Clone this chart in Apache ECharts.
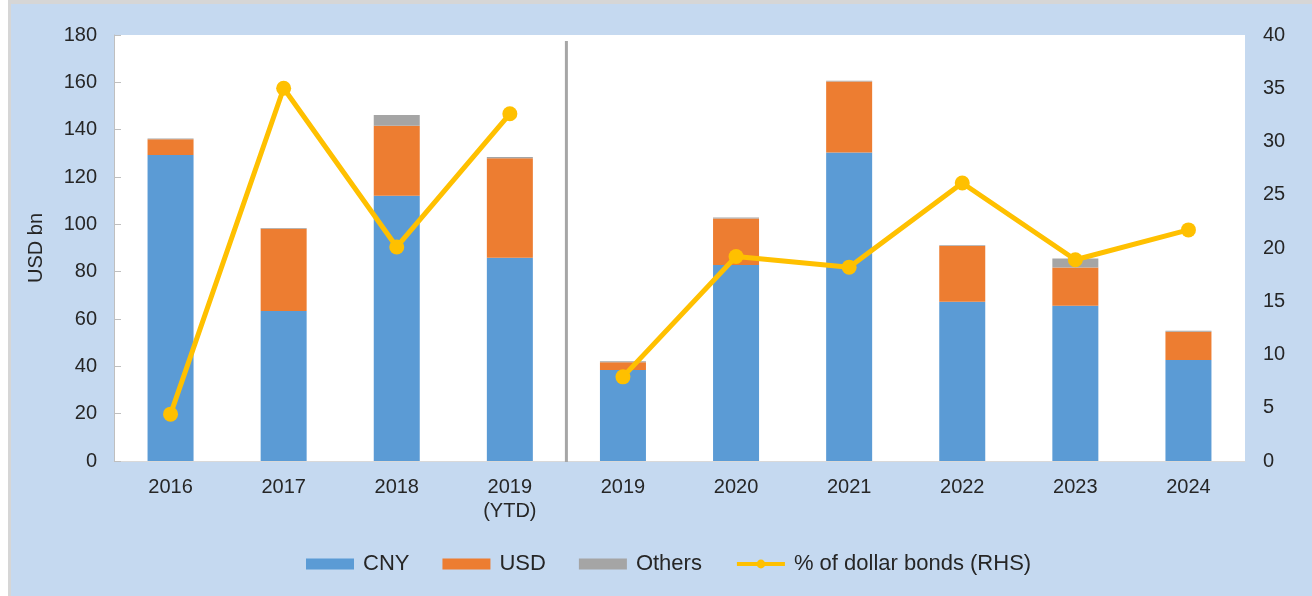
<!DOCTYPE html>
<html>
<head>
<meta charset="utf-8">
<title>Bond issuance</title>
<script src="https://cdn.jsdelivr.net/npm/echarts@6/dist/echarts.min.js"></script>
<style>
  html, body { margin: 0; padding: 0; background: #fff; }
  .frame {
    position: absolute;
    left: 8px; top: 0; right: 0; bottom: 0;
    border-top: 4px solid #d6d6d6;
    border-left: 3px solid #d6d6d6;
    background: #c5d9f0;
  }
  #chart { position: absolute; left: 0; top: 0; width: 1312px; height: 596px; }
</style>
</head>
<body>
<div class="frame"></div>
<div id="chart"></div>
<script>
// categories (first four = actual issuance, rest = maturities)
const years = ['2016', '2017', '2018', '2019\n(YTD)', '2019', '2020', '2021', '2022', '2023', '2024']
// USD bn
const cny = [129.3, 63.4, 112.1, 85.9, 38.4, 82.8, 130.4, 67.3, 65.6, 42.7]
const usd = [6.6, 34.7, 29.6, 42.0, 3.3, 19.7, 29.9, 23.5, 16.2, 11.9]
const others = [0.4, 0.4, 4.5, 0.5, 0.4, 0.4, 0.4, 0.4, 3.8, 0.4]
// % of dollar bonds (RHS)
const dollarShare = [4.4, 35.0, 20.1, 32.6, 7.9, 19.2, 18.2, 26.1, 18.9, 21.7]
const splitAt = 4 // the line is broken at the divider

const font = 'Liberation Sans, Arial, sans-serif'
const txt = '#262626'
const lineName = '% of dollar bonds (RHS)'

const chart = echarts.init(document.getElementById('chart'))

function shareLine(part) {
  return {
    name: lineName,
    type: 'line',
    yAxisIndex: 1,
    z: 5,
    symbol: 'circle',
    symbolSize: 15,
    lineStyle: { color: '#ffc000', width: 5 },
    itemStyle: { color: '#ffc000' },
    data: dollarShare.map((v, i) => ((i < splitAt) === (part === 0) ? v : null))
  }
}

const option = {
  backgroundColor: 'transparent',
  animation: false,
  textStyle: { fontFamily: font, color: txt },
  grid: {
    left: 114, right: 67, top: 35, bottom: 135,
    show: true, backgroundColor: '#ffffff', borderWidth: 0
  },
  legend: {
    left: 301,
    top: 548,
    itemWidth: 48,
    itemHeight: 11,
    itemGap: 33,
    textStyle: { fontFamily: font, fontSize: 22, color: txt, padding: [0, 0, 0, 4] },
    data: [
      { name: 'CNY', icon: 'rect' },
      { name: 'USD', icon: 'rect' },
      { name: 'Others', icon: 'rect' },
      { name: lineName, lineStyle: { width: 4 } }
    ]
  },
  xAxis: {
    type: 'category',
    data: years,
    axisLine: { lineStyle: { color: '#d9d9d9', width: 1 } },
    axisTick: { show: false },
    axisLabel: { fontSize: 20, color: txt, lineHeight: 24, margin: 14, interval: 0 },
    splitLine: { show: false }
  },
  yAxis: [
    {
      type: 'value',
      min: 0,
      max: 180,
      interval: 20,
      name: 'USD bn',
      nameLocation: 'middle',
      nameRotate: 90,
      nameGap: 68,
      nameTextStyle: { fontSize: 20, color: txt },
      axisLine: { show: true, lineStyle: { color: '#bfbfbf' } },
      axisTick: { show: true, inside: true, length: 7, lineStyle: { color: '#bfbfbf' } },
      axisLabel: { fontSize: 20, color: txt, margin: 17 },
      splitLine: { show: false }
    },
    {
      type: 'value',
      min: 0,
      max: 40,
      interval: 5,
      axisLine: { show: false },
      axisTick: { show: false },
      axisLabel: { fontSize: 20, color: txt, margin: 18 },
      splitLine: { show: false }
    }
  ],
  series: [
    {
      name: 'CNY',
      type: 'bar',
      stack: 'total',
      barWidth: 46,
      itemStyle: { color: '#5b9bd5' },
      data: cny
    },
    {
      name: 'USD',
      type: 'bar',
      stack: 'total',
      barWidth: 46,
      itemStyle: { color: '#ed7d31' },
      data: usd
    },
    {
      name: 'Others',
      type: 'bar',
      stack: 'total',
      barWidth: 46,
      itemStyle: { color: '#a5a5a5' },
      data: others
    },
    shareLine(0),
    shareLine(1)
  ]
}

chart.setOption(option)

// vertical divider between the YTD block and the maturity profile
const xa = chart.convertToPixel({ xAxisIndex: 0 }, splitAt - 1)
const xb = chart.convertToPixel({ xAxisIndex: 0 }, splitAt)
const yTop = chart.convertToPixel({ yAxisIndex: 0 }, 180) + 6
const yBot = chart.convertToPixel({ yAxisIndex: 0 }, 0) + 1
const xMid = (xa + xb) / 2
chart.setOption({
  graphic: [{
    type: 'line',
    silent: true,
    z: 1,
    shape: { x1: xMid, y1: yTop, x2: xMid, y2: yBot },
    style: { stroke: '#a6a6a6', lineWidth: 3 }
  }]
})
</script>
</body>
</html>
